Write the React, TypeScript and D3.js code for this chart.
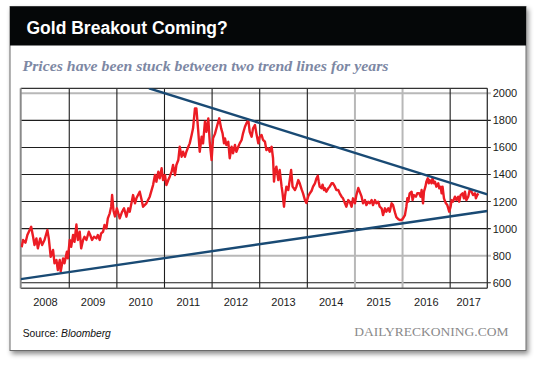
import React from "react";
import * as d3 from "d3";

// ---- data ----
const title = "Gold Breakout Coming?";
const subtitle = "Prices have been stuck between two trend lines for years";
const sourceLabel = "Source: ";
const sourceName = "Bloomberg";
const brand = "DAILYRECKONING.COM";

const yearTicks = [2009, 2010, 2011, 2012, 2013, 2014, 2015, 2016, 2017];
const yearLabels = [2008, 2009, 2010, 2011, 2012, 2013, 2014, 2015, 2016, 2017];
const priceTicks = [600, 800, 1000, 1200, 1400, 1600, 1800, 2000];
const greyPriceTicks = [800, 2000];
const greyYearTicks = [2015, 2016];

const dates = [
  2008.00, 2008.03, 2008.08, 2008.12, 2008.20, 2008.24, 2008.27, 2008.31, 2008.34, 2008.39, 2008.43, 2008.48, 2008.54, 2008.57, 2008.61, 2008.66, 2008.69, 2008.73, 2008.76, 2008.80, 2008.82, 2008.87, 2008.90, 2008.95, 2008.97,
  2009.01, 2009.04, 2009.08, 2009.11, 2009.15, 2009.18, 2009.22, 2009.25, 2009.29, 2009.32, 2009.36, 2009.41, 2009.44, 2009.48, 2009.52, 2009.57, 2009.60, 2009.64, 2009.67, 2009.71, 2009.74, 2009.78, 2009.81, 2009.85, 2009.88, 2009.90, 2009.93, 2009.96,
  2010.00, 2010.06, 2010.11, 2010.13, 2010.15, 2010.20, 2010.24, 2010.27, 2010.34, 2010.38, 2010.41, 2010.48, 2010.52, 2010.55, 2010.62, 2010.69, 2010.76, 2010.80, 2010.83, 2010.87, 2010.90, 2010.94, 2010.97,
  2011.01, 2011.04, 2011.08, 2011.11, 2011.15, 2011.18, 2011.22, 2011.25, 2011.29, 2011.32, 2011.36, 2011.39, 2011.43, 2011.46, 2011.50, 2011.53, 2011.57, 2011.60, 2011.64, 2011.67, 2011.71, 2011.74, 2011.78, 2011.81, 2011.85, 2011.88, 2011.92, 2011.95, 2011.99,
  2012.02, 2012.06, 2012.11, 2012.15, 2012.19, 2012.22, 2012.25, 2012.27, 2012.30, 2012.34, 2012.37, 2012.41, 2012.44, 2012.48, 2012.51, 2012.55, 2012.58, 2012.62, 2012.65, 2012.69, 2012.72, 2012.76, 2012.79, 2012.83, 2012.86, 2012.90, 2012.93, 2012.97,
  2013.00, 2013.04, 2013.07, 2013.11, 2013.14, 2013.18, 2013.21, 2013.25, 2013.28, 2013.30, 2013.32, 2013.35, 2013.39, 2013.42, 2013.46, 2013.48, 2013.51, 2013.53, 2013.56, 2013.60, 2013.63, 2013.66, 2013.69, 2013.74, 2013.77, 2013.81, 2013.84, 2013.88, 2013.91, 2013.95, 2013.98,
  2014.02, 2014.05, 2014.09, 2014.12, 2014.16, 2014.19, 2014.22, 2014.24, 2014.26, 2014.30, 2014.32, 2014.35, 2014.37, 2014.40, 2014.44, 2014.47, 2014.51, 2014.54, 2014.58, 2014.61, 2014.65, 2014.68, 2014.72, 2014.75, 2014.79, 2014.82, 2014.86, 2014.89, 2014.93, 2014.96,
  2015.00, 2015.03, 2015.07, 2015.10, 2015.14, 2015.17, 2015.21, 2015.24, 2015.28, 2015.31, 2015.35, 2015.38, 2015.42, 2015.45, 2015.49, 2015.52, 2015.56, 2015.59, 2015.63, 2015.66, 2015.70, 2015.73, 2015.77, 2015.80, 2015.84, 2015.87, 2015.91, 2015.94, 2015.98,
  2016.01, 2016.05, 2016.08, 2016.10, 2016.12, 2016.15, 2016.19, 2016.21, 2016.24, 2016.28, 2016.31, 2016.35, 2016.38, 2016.40, 2016.43, 2016.45, 2016.48, 2016.50, 2016.53, 2016.55, 2016.57, 2016.61, 2016.63, 2016.66, 2016.68, 2016.71, 2016.75, 2016.77, 2016.80, 2016.82, 2016.84, 2016.87, 2016.91, 2016.94, 2016.98,
  2017.01, 2017.03, 2017.06, 2017.10, 2017.13, 2017.17, 2017.19, 2017.22, 2017.26, 2017.29, 2017.31, 2017.34, 2017.38, 2017.41, 2017.45, 2017.48, 2017.52, 2017.54, 2017.57, 2017.59,
];

const prices = [
  862, 916, 896, 953, 1014, 940, 879, 928, 854, 928, 879, 916, 990, 928, 792, 842, 744, 768, 694, 768, 682, 780, 744, 830, 780,
  916, 866, 953, 903, 1030, 916, 977, 854, 916, 940, 916, 977, 953, 916, 940, 928, 953, 916, 965, 977, 1027, 1002, 1076, 1113, 1162, 1248, 1130, 1090,
  1150, 1076, 1125, 1138, 1150, 1088, 1150, 1125, 1248, 1187, 1224, 1273, 1211, 1162, 1187, 1236, 1322, 1396, 1347, 1421, 1372, 1446, 1359,
  1396, 1322, 1359, 1384, 1421, 1470, 1396, 1470, 1507, 1605, 1531, 1568, 1531, 1568, 1605, 1630, 1692, 1741, 1889, 1889, 1716, 1568, 1679, 1630, 1790, 1716, 1815, 1642, 1507,
  1667, 1700, 1766, 1815, 1741, 1704, 1630, 1667, 1618, 1642, 1520, 1605, 1557, 1618, 1568, 1605, 1630, 1655, 1704, 1753, 1778, 1803, 1716, 1679, 1741, 1766, 1704, 1630,
  1679, 1692, 1655, 1642, 1581, 1593, 1568, 1605, 1520, 1347, 1421, 1458, 1359, 1433, 1310, 1261, 1162, 1236, 1310, 1285, 1359, 1433, 1310, 1285, 1310, 1359, 1335, 1290, 1261, 1211, 1190,
  1240, 1260, 1280, 1310, 1335, 1370, 1390, 1347, 1310, 1298, 1325, 1285, 1298, 1273, 1298, 1310, 1335, 1335, 1310, 1285, 1285, 1261, 1236, 1224, 1187, 1162, 1211, 1199, 1162, 1224,
  1187, 1248, 1300, 1273, 1236, 1187, 1211, 1174, 1199, 1187, 1211, 1174, 1211, 1187, 1199, 1162, 1150, 1100, 1150, 1125, 1150, 1125, 1187, 1174, 1120, 1085, 1070, 1064, 1064,
  1076, 1100, 1162, 1224, 1199, 1261, 1273, 1211, 1248, 1236, 1261, 1261, 1236, 1285, 1187, 1273, 1310, 1347, 1372, 1335, 1359, 1335, 1372, 1335, 1347, 1310, 1335, 1298, 1310, 1261, 1310, 1224, 1187, 1174, 1125,
  1162, 1211, 1199, 1236, 1211, 1236, 1199, 1248, 1261, 1224, 1273, 1211, 1236, 1285, 1273, 1248, 1261, 1224, 1248, 1261,
];

const upperTrendDates = [2010.674, 2017.78];
const upperTrendValues = [2037, 1253];
const lowerTrendDates = [2007.98, 2017.78];
const lowerTrendValues = [627, 1130];

const domainStart = 2007.98;
const domainEnd = 2017.78;

export default function App() {
  const W = 540;
  const H = 379;
  const plot = { left: 20.7, right: 487.3, top: 88.3, bottom: 288.3 };

  const x = d3.scaleLinear().domain([domainStart, domainEnd]).range([plot.left, plot.right]);
  const y = d3.scaleLinear().domain([559, 2037]).range([plot.bottom, plot.top]);

  const priceData = dates.map((d, i) => [d, prices[i]] as [number, number]);
  const line = d3
    .line<[number, number]>()
    .x((d) => x(d[0]))
    .y((d) => y(d[1]));
  const upper = upperTrendDates.map((d, i) => [d, upperTrendValues[i]] as [number, number]);
  const lower = lowerTrendDates.map((d, i) => [d, lowerTrendValues[i]] as [number, number]);

  const labelCenters = yearLabels.map((yr) => {
    const a = x(Math.max(yr, domainStart));
    const b = x(Math.min(yr + 1, domainEnd));
    return (a + b) / 2;
  });

  const sans = "'Liberation Sans', Arial, Helvetica, sans-serif";
  const serif = "'Liberation Serif', 'Times New Roman', serif";

  return (
    <svg
      width={W}
      height={H}
      style={{ position: "absolute", left: 0, top: 0, background: "#fff" }}
    >
      <defs>
        <filter id="shadow" x="-5%" y="-5%" width="115%" height="115%">
          <feDropShadow dx="2" dy="3" stdDeviation="2.5" floodColor="#000" floodOpacity="0.45" />
        </filter>
        <clipPath id="plotClip">
          <rect x={plot.left} y={plot.top} width={plot.right - plot.left} height={plot.bottom - plot.top} />
        </clipPath>
      </defs>

      {/* card */}
      <rect x={10} y={6.5} width={516} height={344} fill="#fff" stroke="#6a6a6a" strokeWidth={1} filter="url(#shadow)" />
      <rect x={10} y={6.5} width={516} height={39} fill="#050708" />
      <text x={26.5} y={34.3} fill="#fff" fontFamily={sans} fontWeight="bold" fontSize={17.5}>
        {title}
      </text>
      <text
        x={22.5}
        y={70.7}
        fill="#7d88a4"
        fontFamily={serif}
        fontWeight="bold"
        fontStyle="italic"
        fontSize={14.5}
        textLength={366}
        lengthAdjust="spacingAndGlyphs"
      >
        {subtitle}
      </text>

      {/* horizontal grid */}
      {priceTicks.map((v) => {
        const grey = greyPriceTicks.includes(v);
        return (
          <line
            key={"h" + v}
            x1={plot.left}
            x2={plot.right + 3.5}
            y1={y(v)}
            y2={y(v)}
            stroke={grey ? "#b8b8b8" : "#1e1e1e"}
            strokeWidth={grey ? 2 : 1.1}
          />
        );
      })}
      {/* vertical grid */}
      {yearTicks.map((yr) => {
        const grey = greyYearTicks.includes(yr);
        return (
          <line
            key={"v" + yr}
            x1={x(yr)}
            x2={x(yr)}
            y1={plot.top}
            y2={plot.bottom}
            stroke={grey ? "#b8b8b8" : "#1e1e1e"}
            strokeWidth={grey ? 2 : 1.1}
          />
        );
      })}

      {/* frame */}
      <line x1={plot.left} x2={plot.right} y1={plot.top} y2={plot.top} stroke="#333" strokeWidth={1.3} />
      <line x1={plot.left} x2={plot.right} y1={plot.bottom} y2={plot.bottom} stroke="#555" strokeWidth={1.5} />
      <line x1={plot.left} x2={plot.left} y1={plot.top} y2={plot.bottom} stroke="#8a8a8a" strokeWidth={2} />
      <line x1={plot.right} x2={plot.right} y1={plot.top} y2={plot.bottom} stroke="#333" strokeWidth={1.3} />

      {/* data */}
      <g clipPath="url(#plotClip)">
        <path d={line(priceData) || ""} fill="none" stroke="#ec1c24" strokeWidth={2.4} strokeLinejoin="round" />
        <path d={line(upper) || ""} fill="none" stroke="#194a74" strokeWidth={2.4} />
        <path d={line(lower) || ""} fill="none" stroke="#194a74" strokeWidth={2.4} />
      </g>

      {/* y labels */}
      {priceTicks.map((v) => (
        <text key={"yl" + v} x={492.7} y={y(v)} dy="0.36em" fontFamily={sans} fontSize={11} fill="#1a1a1a">
          {v}
        </text>
      ))}
      {/* x labels */}
      {yearLabels.map((yr, i) => (
        <text
          key={"xl" + yr}
          x={labelCenters[i]}
          y={305.5}
          textAnchor="middle"
          fontFamily={sans}
          fontSize={11}
          fill="#1a1a1a"
        >
          {yr}
        </text>
      ))}

      {/* footer */}
      <text x={22.7} y={336.5} fontFamily={sans} fontSize={10.3} fill="#111">
        {sourceLabel}
        <tspan fontStyle="italic">{sourceName}</tspan>
      </text>
      <text x={508.5} y={336} textAnchor="end" fontFamily={serif} fontSize={13.5} fill="#8a8a8a">
        {brand}
      </text>
    </svg>
  );
}
